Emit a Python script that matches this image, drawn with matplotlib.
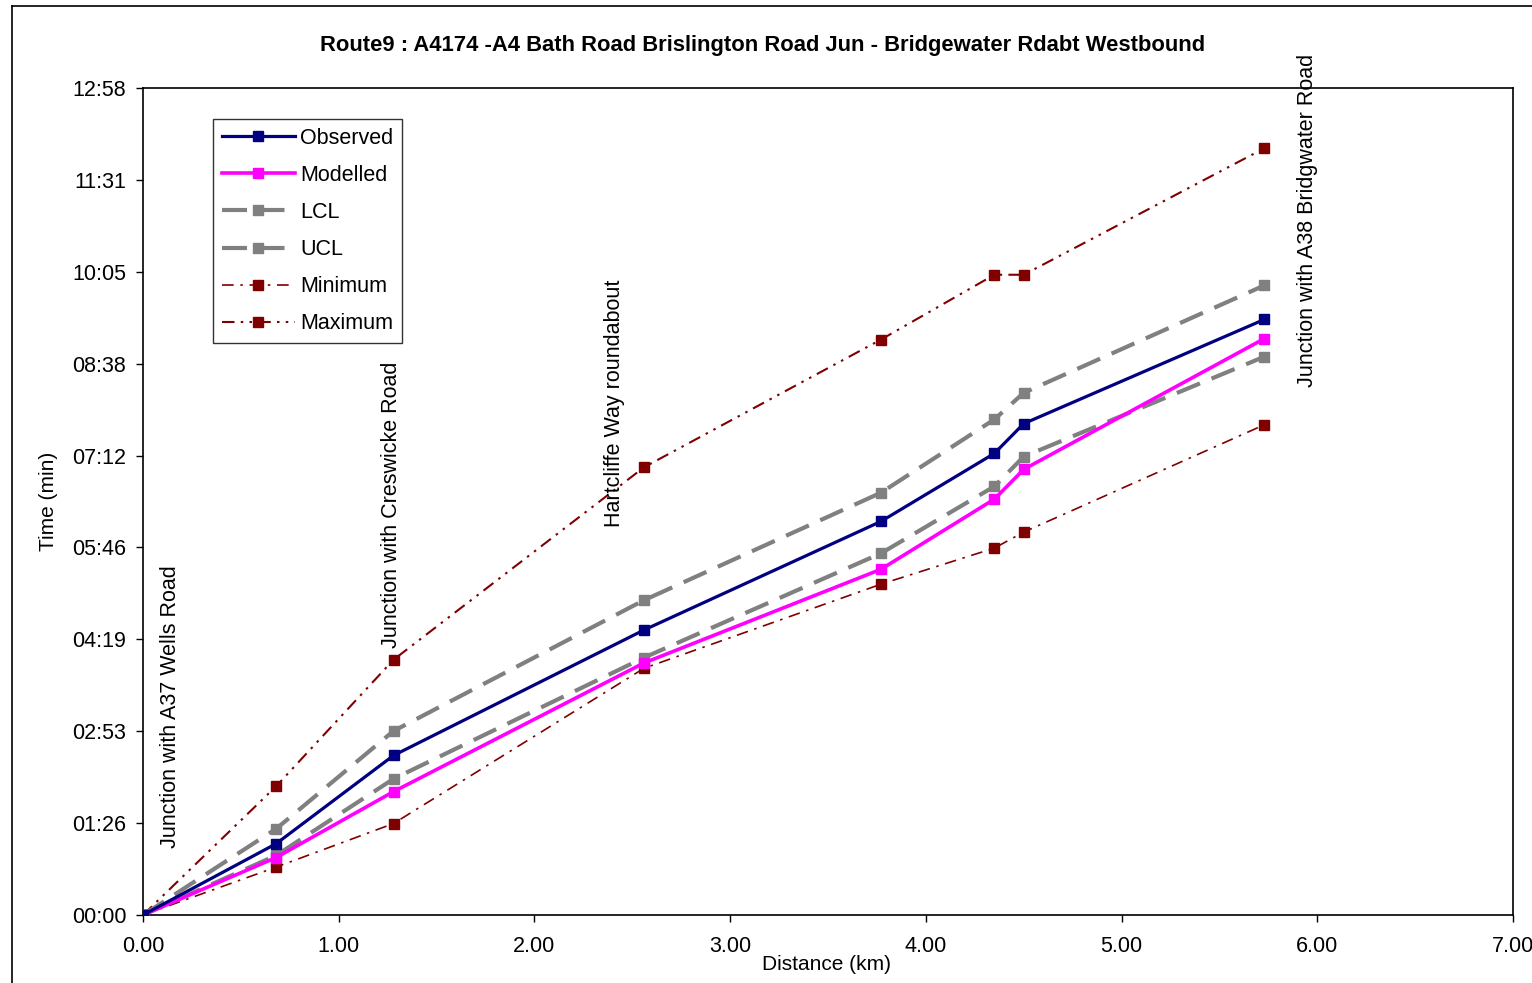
import matplotlib
matplotlib.use("Agg")
import matplotlib.pyplot as plt
from matplotlib.ticker import FuncFormatter, MultipleLocator
from matplotlib.lines import Line2D

plt.rcParams['font.family'] = ['Liberation Sans', 'DejaVu Sans']

# distance along route (km) and journey times (seconds)
distance_km = [0.0, 0.68, 1.28, 2.56, 3.77, 4.35, 4.50, 5.73]
observed = [0, 67, 150, 268, 370, 434, 462, 560]
modelled = [0, 54, 116, 237, 325, 391, 419, 542]
lcl = [0, 56, 128, 242, 340, 403, 431, 525]
ucl = [0, 81, 173, 296, 397, 466, 491, 592]
minimum = [0, 45, 86, 232, 311, 345, 360, 461]
maximum = [0, 121, 240, 421, 541, 602, 602, 721]

junctions = ["Junction with A37 Wells Road", "Junction with Creswicke Road",
             "Hartcliffe Way roundabout", "Junction with A38 Bridgwater Road"]
junction_x = [0.138, 1.272, 2.41, 5.948]
junction_y = [63, 251, 365, 496]

title = "Route9 : A4174 -A4 Bath Road Brislington Road Jun - Bridgewater Rdabt Westbound"

fig = plt.figure(figsize=(15.32, 9.83), dpi=100)
ax = fig.add_axes([143 / 1532, 1 - 915 / 983, 1370 / 1532, 827 / 983])

# outer chart frame (top and left edges visible in the reference)
fig.add_artist(Line2D([12 / 1532, 1.0], [1 - 6 / 983] * 2, color='black', lw=1.2))
fig.add_artist(Line2D([12 / 1532] * 2, [0.0, 1 - 6 / 983], color='black', lw=1.2))

ms = 7.5
ax.plot(distance_km, observed, color='#000080', lw=2.3, marker='s', ms=ms, label='Observed', zorder=5)
ax.plot(distance_km, modelled, color='#FF00FF', lw=2.6, marker='s', ms=ms, label='Modelled', zorder=4)
ax.plot(distance_km, lcl, color='#808080', lw=3, dashes=(6, 3), marker='s', ms=ms, label='LCL', zorder=3)
ax.plot(distance_km, ucl, color='#808080', lw=3, dashes=(6, 3), marker='s', ms=ms, label='UCL', zorder=3)
ax.plot(distance_km, minimum, color='#800000', lw=1.2, dashes=(7, 4, 1.5, 4), marker='s', ms=ms,
        label='Minimum', zorder=2)
ax.plot(distance_km, maximum, color='#800000', lw=1.5, dashes=(6, 3, 1.2, 3, 1.2, 3), marker='s', ms=ms,
        label='Maximum', zorder=2)

ax.set_xlim(0, 7)
ax.set_ylim(0, 777.6)
ax.xaxis.set_major_locator(MultipleLocator(1))
ax.yaxis.set_major_locator(MultipleLocator(86.4))
ax.xaxis.set_major_formatter(FuncFormatter(lambda v, p: f"{v:.2f}"))


def mmss(v, pos):
    s = int(round(v))
    return f"{s // 60:02d}:{s % 60:02d}"


ax.yaxis.set_major_formatter(FuncFormatter(mmss))
ax.tick_params(labelsize=15.5, length=5, width=1, direction='out')
ax.tick_params(axis='x', pad=10)
ax.tick_params(axis='y', pad=7)
for sp in ax.spines.values():
    sp.set_linewidth(1.2)

ax.set_xlabel("Distance (km)", fontsize=15)
ax.set_ylabel("Time (min)", fontsize=15, labelpad=10)
ax.xaxis.set_label_coords((826 - 143) / 1370, -0.048)

fig.text(763 / 1532, 1 - 45 / 983, title, ha='center', va='center', fontsize=15.8, fontweight='bold')

for txt, x, y in zip(junctions, junction_x, junction_y):
    ax.text(x, y, txt, rotation=90, ha='center', va='bottom', fontsize=15.5, zorder=6)

leg = ax.legend(loc='upper left', bbox_to_anchor=((213 - 143) / 1370, (915 - 119) / 827),
                fontsize=15.5, frameon=True, fancybox=False, edgecolor='black', borderpad=0.4,
                handlelength=3.4, handletextpad=0.25, labelspacing=0.75, borderaxespad=0)
leg.get_frame().set_linewidth(1.0)

fig.savefig("out.png", dpi=100)
